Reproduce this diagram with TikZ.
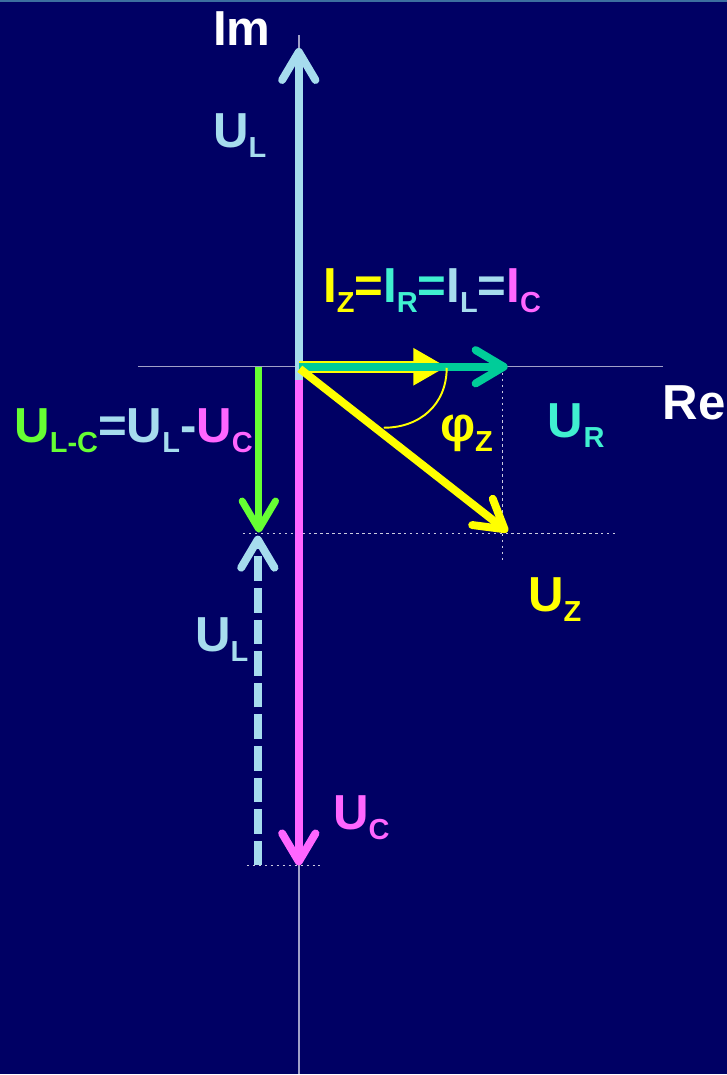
\documentclass[tikz,border=0pt]{standalone}
\usepackage{fontspec}
\setmainfont{Liberation Sans}
\usetikzlibrary{arrows.meta}

\definecolor{bg}{RGB}{0,0,100}
\definecolor{rim}{RGB}{60,110,160}
\definecolor{axis}{RGB}{160,160,200}
\definecolor{cL}{RGB}{166,220,238}
\definecolor{cC}{RGB}{255,102,255}
\definecolor{cLC}{RGB}{102,255,51}
\definecolor{cR}{RGB}{0,204,153}
\definecolor{cRt}{RGB}{64,240,208}
\definecolor{cZ}{RGB}{255,255,0}

\newcommand{\lowsub}[1]{\raisebox{-5.7pt}{\fontsize{16.5}{16.5}\selectfont #1}}

\tikzset{
  lbl/.style={anchor=base west, font=\fontsize{28}{30}\selectfont\bfseries},
  phasor/.style={line width=4.5pt, -{Straight Barb[length=16pt, width=19pt, round]}},
  guide/.style={white!80!bg, line width=0.6pt, dash pattern=on 1.4pt off 2pt},
}

\begin{document}
\begin{tikzpicture}[x=0.02cm, y=-0.02cm, every node/.style={inner sep=0}]

  \fill[bg] (0,0) rectangle (727,1075);
  \fill[rim] (0,0) rectangle (727,2);

  \coordinate (o) at (299,367);
  \coordinate (imtop) at (299,35);
  \coordinate (imbot) at (299,1075);
  \coordinate (releft) at (138,367);
  \coordinate (reright) at (663,367);
  \coordinate (b) at (299,380);
  \coordinate (ul) at (299,48);
  \coordinate (uc) at (299,866);
  \coordinate (lc0) at (259,367);
  \coordinate (lc) at (259,533);
  \coordinate (dl0) at (258,866);
  \coordinate (dl) at (258,536);
  \coordinate (iz) at (447,367);
  \coordinate (ur) at (508,367);
  \coordinate (uz) at (508,532);
  \coordinate (arc0) at (447,368);
  \coordinate (arc1) at (384,428);

  \draw[axis, line width=0.8pt] (imtop) -- (imbot);
  \draw[axis, line width=0.8pt] (releft) -- (reright);

  \draw[guide] (243,534) -- (618,534);
  \draw[guide] (247,866) -- (320,866);
  \draw[guide] (503,367) -- (503,562);

  \draw[phasor, cC] (b) -- (uc);
  \draw[phasor, cL] (b) -- (ul);
  \draw[phasor, cLC, line width=4pt] (lc0) -- (lc);
  \draw[phasor, cL, dash pattern=on 14pt off 4pt] (dl0) -- (dl);

  \draw[cZ, line width=6.6pt, -{Triangle[length=19pt, width=20pt]}] (o) -- (iz);
  \draw[phasor, cR] (o) -- (ur);
  \draw[phasor, cZ] (300,369) -- (uz);
  \draw[cZ, line width=1.1pt] (arc0) .. controls (447,405) and (420,428) .. (arc1);

  \node[lbl, white] at (213,46) (im) {Im};
  \node[lbl, white] at (663,420) (re) {Re};
  \node[lbl, cL] at (213,148) (ultop) {U\lowsub{L}};
  \node[lbl] at (323,303) (iall) {\color{cZ}I\lowsub{Z}=\color{cRt}I\lowsub{R}=\color{cL}I\lowsub{L}=\color{cC}I\lowsub{C}};
  \node[lbl] at (14,443) (ulc) {\color{cLC}U\lowsub{L-C}\color{cL}=U\lowsub{L}-\color{cC}U\lowsub{C}};
  \node[lbl, cZ] at (440,442) (phi) {φ\lowsub{Z}};
  \node[lbl, cRt] at (548,438) (urlbl) {U\lowsub{R}};
  \node[lbl, cZ] at (528,612) (uzlbl) {U\lowsub{Z}};
  \node[lbl, cL] at (195,652) (ulbot) {U\lowsub{L}};
  \node[lbl, cC] at (333,830) (uclbl) {U\lowsub{C}};

\end{tikzpicture}
\end{document}
